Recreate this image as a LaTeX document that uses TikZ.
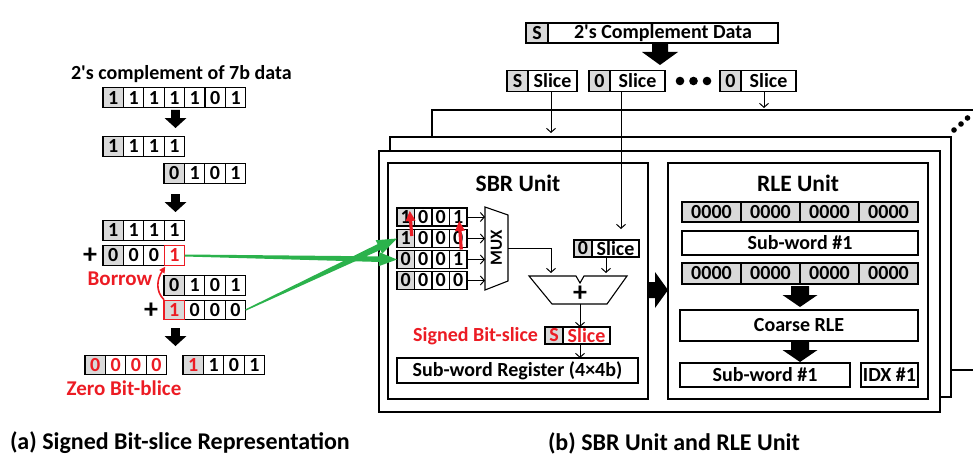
\documentclass[tikz,border=0pt]{standalone}
\usepackage{fontspec}
\setmainfont{Carlito}
\usetikzlibrary{arrows.meta,calc}
\definecolor{cgray}{RGB}{217,217,217}
\definecolor{cred}{RGB}{236,28,36}
\definecolor{cgreen}{RGB}{43,178,76}
\colorlet{cG}{cgray}
\colorlet{cW}{white}
\colorlet{cK}{black}
\colorlet{cR}{cred}
\tikzset{
  base/.style={font=\fontsize{20}{22}\selectfont\bfseries, inner sep=0pt, outer sep=0pt},
  cell/.style={base, draw, line width=1.1pt, fill=white},
  box/.style={base, draw, line width=1.1pt, fill=white},
  frame/.style={draw, line width=1.3pt, fill=white},
  arr/.style={line width=1pt, -{Straight Barb[length=4pt,width=9pt]}},
  bigtitle/.style={base, font=\fontsize{23.5}{25}\selectfont\bfseries},
  redtxt/.style={base, text=cred},
  plus/.style={base, font=\fontsize{28}{28}\selectfont\bfseries},
  captxt/.style={base, font=\fontsize{24}{26}\selectfont\bfseries, anchor=west},
  redframe/.style={draw=cred, line width=1.4pt},
}
% name, x left, y center, list, cell width, cell height, text colour
\newcommand\bitrow[7]{%
  \foreach \v [count=\i] in {#4} {%
    \ifnum\i=1 \def\cf{cgray}\else\def\cf{white}\fi
    \node[cell, fill=\cf, text=#7, minimum width=#5pt, minimum height=#6pt] (#1-\i) at ({#2+(\i-0.5)*#5},#3) {\v};}}
% name, x left, y center, cell width, cell height, list of value/fill/text
\newcommand\bitrowx[6]{%
  \foreach \v/\f/\t [count=\i] in {#6} {%
    \node[cell, fill=\f, text=\t, minimum width=#4pt, minimum height=#5pt] (#1-\i) at ({#2+(\i-0.5)*#4},#3) {\v};}}
% downward block arrow: cx, ytop, shaft half, shaft len, head half, head len
\newcommand\blkdown[6]{\fill ({#1-#3},#2) -- ({#1+#3},#2) -- ({#1+#3},{#2+#4}) -- ({#1+#5},{#2+#4}) -- (#1,{#2+#4+#6}) -- ({#1-#5},{#2+#4}) -- ({#1-#3},{#2+#4}) -- cycle;}
% tapered arrow: from, to, start half, end half, head length, head half, colour
\newcommand\taper[7]{%
  \coordinate (tp-h) at ($(#2)!#5!(#1)$);
  \fill[#7] ($(#1)!#3!90:(#2)$) -- ($(tp-h)!#4!90:(#2)$) -- ($(tp-h)!#6!90:(#2)$) -- (#2)
    -- ($(tp-h)!#6!-90:(#2)$) -- ($(tp-h)!#4!-90:(#2)$) -- ($(#1)!#3!-90:(#2)$) -- cycle;}
\begin{document}
\begin{tikzpicture}[x=1pt,y=-1pt]
\useasboundingbox (0,0) rectangle (973,468);
\clip (0,0) rectangle (973,468);

% ---------------- (a) left part ----------------
\node[base, anchor=west] (ttl) at (71,74) {2\textquotesingle s complement of 7b data};
\bitrow{ra}{103}{97.7}{1,1,1,1,1,0,1}{20.4}{19.5}{black}
\blkdown{175.5}{110}{4.3}{8}{11}{10}
\bitrow{rb}{103}{146.5}{1,1,1,1}{20.4}{19.5}{black}
\bitrow{rc}{164}{173.5}{0,1,0,1}{20.4}{19.5}{black}
\blkdown{175.5}{194}{4.3}{8}{11}{10}
\bitrow{rd}{103}{230.5}{1,1,1,1}{20.4}{19.5}{black}
\bitrowx{re}{103}{255.5}{20.4}{19.5}{0/cG/cK,0/cW/cK,0/cW/cK,1/cW/cR}
\draw[redframe] (re-4.north west) rectangle (re-4.south east);
\node[plus] (pl1) at (90,256) {+};
\node[redtxt, font=\fontsize{21}{23}\selectfont\bfseries] (borrow) at (120,279) {Borrow};
\bitrow{rf}{164}{285.5}{0,1,0,1}{20.4}{19.5}{black}
\bitrowx{rg}{164}{310}{20.4}{19.5}{1/cG/cR,0/cW/cK,0/cW/cK,0/cW/cK}
\draw[redframe] (rg-1.north west) rectangle (rg-1.south east);
\node[plus] (pl2) at (151,311) {+};
\draw[cred, line width=1.6pt, -{Triangle[length=6pt,width=6pt]}]
  ($(rg-1.north west)+(0,-0.5)$) .. controls +(-9,-9) and +(-8,12) .. ($(re-4.south west)+(1,1.5)$);
\blkdown{175.5}{328}{4.3}{8}{11}{10}
\bitrow{rh}{85}{365}{0,0,0,0}{20.4}{19.5}{cred}
\bitrowx{ri}{183}{365}{20.4}{19.5}{1/cG/cR,1/cW/cK,0/cW/cK,1/cW/cK}
\node[redtxt, font=\fontsize{21}{23}\selectfont\bfseries] (zero) at (124,388) {Zero Bit-blice};

% ---------------- (b) top part ----------------
\node[box, fill=cgray, minimum width=22pt, minimum height=20pt, anchor=west] (cs) at (526,33) {S};
\node[box, minimum width=230pt, minimum height=20pt, anchor=west] (cd) at (548,33) {2\textquotesingle s Complement Data};
\blkdown{660}{43}{8}{9}{18}{13}
\node[box, fill=cgray, minimum width=21pt, minimum height=21.5pt, anchor=west] (t1s) at (507,81) {S};
\node[box, minimum width=49pt, minimum height=21.5pt, anchor=west] (t1) at (528,81) {Slice};
\node[box, fill=cgray, minimum width=21pt, minimum height=21.5pt, anchor=west] (t2s) at (589,81) {0};
\node[box, minimum width=55pt, minimum height=21.5pt, anchor=west] (t2) at (610,81) {Slice};
\fill (680,81) circle (4.3pt) (693.5,81) circle (4.3pt) (707,81) circle (4.3pt);
\node[box, fill=cgray, minimum width=21pt, minimum height=21.5pt, anchor=west] (t3s) at (720,81) {0};
\node[box, minimum width=55pt, minimum height=21.5pt, anchor=west] (t3) at (741,81) {Slice};

% frames
\draw[frame] (432,110) rectangle (1000,370);
\draw[frame] (390,137) rectangle (951,397);
\draw[frame] (379,151) rectangle (940,412);
\draw[frame] (388,163) rectangle (648,399);
\draw[frame] (668,163) rectangle (928,399);
\fill (954,130) circle (2.8pt) (961,124) circle (2.8pt) (967.5,118) circle (2.8pt);

\coordinate (mt) at (551,133);
\draw[arr] (t1.south -| mt) -- (mt);
\coordinate (bt) at (764,108);
\draw[arr] (t3.south -| bt) -- (bt);

% ---------------- SBR unit ----------------
\node[bigtitle] (sbrt) at (518,183) {SBR Unit};
\bitrow{s1}{397}{217}{1,0,0,1}{17.5}{18}{black}
\bitrow{s2}{397}{238.5}{1,0,0,0}{17.5}{18}{black}
\bitrow{s3}{397}{259.5}{0,0,0,1}{17.5}{18}{black}
\bitrow{s4}{397}{280.5}{0,0,0,0}{17.5}{18}{black}
\draw[line width=1.1pt, fill=white] (485,207) -- (508,215) -- (508,281) -- (485,290) -- cycle;
\node[base, font=\fontsize{17}{19}\selectfont\bfseries, rotate=90] (mux) at (496.5,248) {MUX};
\coordinate (muxl) at (485,248);
\foreach \r in {s1,s2,s3,s4} \draw[arr] (\r-4.east) -- (\r-4.east -| muxl);
\node[box, fill=cgray, minimum width=18pt, minimum height=17pt, anchor=west] (sz0) at (574,248.5) {0};
\node[box, minimum width=47pt, minimum height=17pt, anchor=west] (sz) at (592,248.5) {Slice};
\coordinate (zin) at (621,229);
\draw[arr] (t2.south -| zin) -- (zin);
% adder
\draw[line width=1.1pt, fill=white] (529,276) -- (576,276) -- (580,283) -- (584,276) -- (627,276) -- (607,304) -- (552,304) -- cycle;
\node[plus] (addp) at (580,294) {+};
\coordinate (ai1) at (551,273);
\coordinate (ai2) at (606,273);
\coordinate (ao) at (580,304);
\coordinate (muxo) at (508,248);
\draw[arr] (muxo) -| (ai1);
\draw[arr] (ai2 |- sz.south) -- (ai2);
\node[box, fill=cgray, text=cred, minimum width=18pt, minimum height=17pt, anchor=west] (ss0) at (545,335.5) {S};
\node[box, text=cred, minimum width=47pt, minimum height=17pt, anchor=west] (ss) at (563,335.5) {Slice};
\draw[arr] (ao) -- (ao |- ss.north);
\node[redtxt, anchor=east] (sbs) at (538,336) {Signed Bit-slice};
\node[box, minimum width=241pt, minimum height=25pt] (reg) at (517.5,370.5) {Sub-word Register (4×4b)};
\draw[arr] (ao |- ss.south) -- (ao |- reg.north);

% red arrows in SBR
\coordinate (ra1t) at ($(s2-1.center)+(6,-2.5)$);
\coordinate (ra1h) at ($(s1-1.center)+(4,-6)$);
\taper{ra1t}{ra1h}{1.6pt}{1.6pt}{10pt}{5pt}{cred}
\coordinate (ra2t) at ($(s3-4.center)+(3,-10)$);
\coordinate (ra2h) at ($(s1-4.center)+(1,4)$);
\taper{ra2t}{ra2h}{1.6pt}{1.6pt}{10pt}{5pt}{cred}

% SBR -> RLE arrow
\fill (648,282) -- (655,282) -- (655,272) -- (668,290) -- (655,308) -- (655,298) -- (648,298) -- cycle;

% ---------------- RLE unit ----------------
\node[bigtitle] (rlet) at (798,183) {RLE Unit};
\foreach \i in {1,...,4} \node[box, fill=cgray, minimum width=59pt, minimum height=20pt] (q1-\i) at ({682+(\i-0.5)*59},212) {0000};
\node[box, minimum width=236pt, minimum height=24pt, anchor=west] (sw1) at (682,243) {Sub-word \#1};
\foreach \i in {1,...,4} \node[box, fill=cgray, minimum width=59pt, minimum height=21pt] (q3-\i) at ({682+(\i-0.5)*59},273.5) {0000};
\blkdown{800}{286}{9}{9}{17.5}{12}
\node[box, minimum width=238pt, minimum height=31pt, anchor=west] (crle) at (680,325.5) {Coarse RLE};
\blkdown{800}{342}{9}{8}{17.5}{12}
\node[box, minimum width=170pt, minimum height=24pt, anchor=west] (sw2) at (680,375) {Sub-word \#1};
\node[box, minimum width=57pt, minimum height=24pt, anchor=west] (idx) at (861,375) {IDX \#1};

% green arrows
\taper{re-4.east}{s3-1.west}{1pt}{2.8pt}{18pt}{7pt}{cgreen}
\taper{rg-4.east}{s2-1.west}{0.7pt}{3.2pt}{20pt}{7.5pt}{cgreen}

% captions
\node[captxt] (capa) at (10,443) {(a) Signed Bit-slice Representation};
\node[captxt] (capb) at (548,443) {(b) SBR Unit and RLE Unit};
\end{tikzpicture}
\end{document}
